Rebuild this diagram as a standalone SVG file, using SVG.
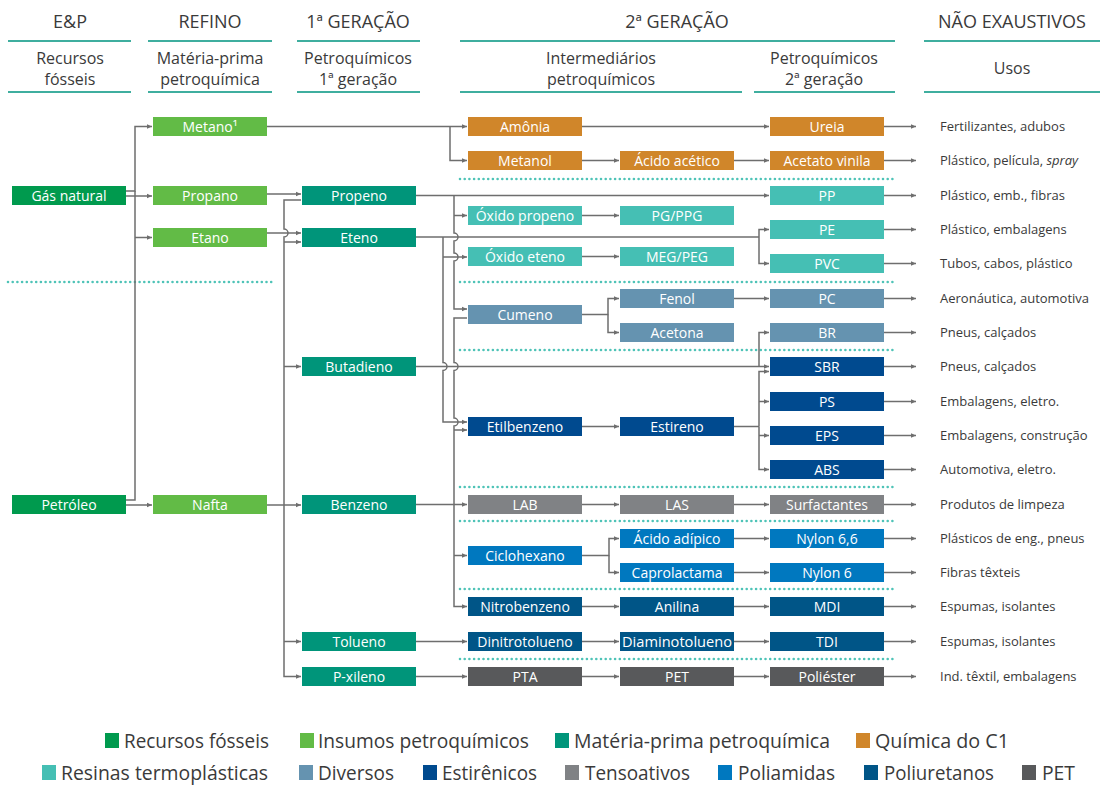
<svg xmlns="http://www.w3.org/2000/svg" width="1100" height="786" viewBox="0 0 1100 786">
<style>
text{font-family:"Open Sans","Noto Sans","Liberation Sans",sans-serif;fill:#3a3a3a}
.h{font-size:18px;text-anchor:middle}
.s{font-size:16px;text-anchor:middle}
.b{font-size:14px;text-anchor:middle;fill:#fff}
.u{font-size:13px}
.lg{font-size:20px}
.hl{stroke:#3fae9f;stroke-width:2;fill:none}
.dot{stroke:#4ec3b7;stroke-width:2.6;stroke-linecap:round;stroke-dasharray:0 4.7;fill:none}
.c path{fill:none;stroke:#6e6e6e;stroke-width:1.5;marker-end:url(#a)}
.c path.n{marker-end:none}
.fos{fill:#009a4e}.ins{fill:#62bb46}.mp{fill:#00957a}.c1{fill:#d0862a}.res{fill:#45bfb4}.div{fill:#6593b0}.est{fill:#004a8f}.ten{fill:#808285}.pam{fill:#0078bf}.pur{fill:#005587}.pet{fill:#58595b}
</style>
<defs>
<marker id="a" markerUnits="userSpaceOnUse" markerWidth="7" markerHeight="7" refX="5.5" refY="3" orient="auto"><path d="M0,0.4 L5.5,3 L0,5.6 Z" fill="#6e6e6e"/></marker>
</defs>

<g id="header">
<text class="h" x="70" y="28">E&amp;P</text>
<text class="h" x="210" y="28">REFINO</text>
<text class="h" x="358" y="28">1ª GERAÇÃO</text>
<text class="h" x="677" y="28">2ª GERAÇÃO</text>
<text class="h" x="1012" y="28">NÃO EXAUSTIVOS</text>
<path class="hl" d="M8,41H131M148,41H272M297,41H420M460,41H895M924,41H1100"/>
<text class="s" x="70" y="64">Recursos</text><text class="s" x="70" y="85">fósseis</text>
<text class="s" x="210" y="64">Matéria-prima</text><text class="s" x="210" y="85">petroquímica</text>
<text class="s" x="358" y="64">Petroquímicos</text><text class="s" x="358" y="85">1ª geração</text>
<text class="s" x="601" y="64">Intermediários</text><text class="s" x="601" y="85">petroquímicos</text>
<text class="s" x="824" y="64">Petroquímicos</text><text class="s" x="824" y="85">2ª geração</text>
<text class="s" x="1012" y="74">Usos</text>
<path class="hl" d="M8,92H131M148,92H272M297,92H420M460,92H742M754,92H895M924,92H1100"/>
</g>

<g id="separators">
<path class="dot" d="M8,282H273"/>
<path class="dot" d="M460,179H895M460,282H895M460,350H895M460,487H895M460,521H895M460,589H895M460,659H895"/>
</g>

<g id="connectors" class="c">
<path d="M126,191H135V126.5H152"/>
<path d="M126,196H152"/>
<path class="n" d="M135,191V500H126"/>
<path d="M135,237.5H152"/>
<path d="M126,505H152"/>
<path d="M267,194H301"/>
<path d="M267,233H301"/>
<path d="M301,200H284V229A4,4 0 0 1 284,237V676.5H301"/>
<path d="M284,242H301"/>
<path d="M284,366.5H301"/>
<path d="M284,641.5H301"/>
<path d="M267,505H301"/>
<path d="M267,126.5H467"/>
<path d="M450,126.5V160.5H467"/>
<path d="M582,126.5H769"/>
<path d="M582,160.5H619"/>
<path d="M734,160.5H769"/>
<path d="M416,195.5H769"/>
<path d="M454,195.5V233A4,4 0 0 1 454,241V253A4,4 0 0 1 454,261V309H467"/>
<path d="M454,215.5H467"/>
<path d="M582,215.5H619"/>
<path class="n" d="M416,237H759"/>
<path d="M759,237V229.5H769"/>
<path d="M759,237V263.5H769"/>
<path d="M443,237V362.5A4,4 0 0 1 443,370.5V422H467"/>
<path d="M443,257H467"/>
<path d="M582,256.5H619"/>
<path d="M582,314.5H608V298.5H619"/>
<path d="M608,314.5V332.5H619"/>
<path d="M734,298.5H769"/>
<path d="M416,366.5H769"/>
<path d="M759,366.5V332.5H769"/>
<path d="M467,318H454V362.5A4,4 0 0 1 454,370.5V418A4,4 0 0 1 454,426V606.5H467"/>
<path d="M454,430H467"/>
<path d="M416,504.5H467"/>
<path d="M454,555.5H467"/>
<path d="M582,426.5H619"/>
<path class="n" d="M734,426.5H759"/>
<path d="M759,426.5V371.5H769"/>
<path d="M759,401.5H769"/>
<path d="M759,426.5V469.5H769"/>
<path d="M759,435.5H769"/>
<path d="M582,504.5H619"/>
<path d="M734,504.5H769"/>
<path d="M582,555.5H609V538.5H619"/>
<path d="M609,555.5V572.5H619"/>
<path d="M734,538.5H769"/>
<path d="M734,572.5H769"/>
<path d="M582,606.5H619"/>
<path d="M734,606.5H769"/>
<path d="M416,641.5H467"/>
<path d="M582,641.5H619"/>
<path d="M734,641.5H769"/>
<path d="M416,676.5H467"/>
<path d="M582,676.5H619"/>
<path d="M734,676.5H769"/>
<path d="M884,126.5H916"/><path d="M884,160.5H916"/><path d="M884,195.5H916"/><path d="M884,229.5H916"/>
<path d="M884,263.5H916"/><path d="M884,298.5H916"/><path d="M884,332.5H916"/><path d="M884,366.5H916"/>
<path d="M884,401.5H916"/><path d="M884,435.5H916"/><path d="M884,469.5H916"/><path d="M884,504.5H916"/>
<path d="M884,538.5H916"/><path d="M884,572.5H916"/><path d="M884,606.5H916"/><path d="M884,641.5H916"/>
<path d="M884,676.5H916"/>
</g>

<g id="gas-natural"><rect class="fos" x="12" y="186" width="114" height="19"/><text class="b" x="69" y="200.5">Gás natural</text></g>
<g id="petroleo"><rect class="fos" x="12" y="495" width="114" height="19"/><text class="b" x="69" y="509.5">Petróleo</text></g>
<g id="metano"><rect class="ins" x="153" y="117" width="114" height="19"/><text class="b" x="210" y="131.5">Metano¹</text></g>
<g id="propano"><rect class="ins" x="153" y="186" width="114" height="19"/><text class="b" x="210" y="200.5">Propano</text></g>
<g id="etano"><rect class="ins" x="153" y="228" width="114" height="19"/><text class="b" x="210" y="242.5">Etano</text></g>
<g id="nafta"><rect class="ins" x="153" y="495" width="114" height="19"/><text class="b" x="210" y="509.5">Nafta</text></g>
<g id="propeno"><rect class="mp" x="302" y="186" width="114" height="19"/><text class="b" x="359" y="200.5">Propeno</text></g>
<g id="eteno"><rect class="mp" x="302" y="228" width="114" height="19"/><text class="b" x="359" y="242.5">Eteno</text></g>
<g id="butadieno"><rect class="mp" x="302" y="357" width="114" height="19"/><text class="b" x="359" y="371.5">Butadieno</text></g>
<g id="benzeno"><rect class="mp" x="302" y="495" width="114" height="19"/><text class="b" x="359" y="509.5">Benzeno</text></g>
<g id="tolueno"><rect class="mp" x="302" y="632" width="114" height="19"/><text class="b" x="359" y="646.5">Tolueno</text></g>
<g id="p-xileno"><rect class="mp" x="302" y="667" width="114" height="19"/><text class="b" x="359" y="681.5">P-xileno</text></g>
<g id="amonia"><rect class="c1" x="468" y="117" width="114" height="19"/><text class="b" x="525" y="131.5">Amônia</text></g>
<g id="metanol"><rect class="c1" x="468" y="151" width="114" height="19"/><text class="b" x="525" y="165.5">Metanol</text></g>
<g id="acido-acetico"><rect class="c1" x="620" y="151" width="114" height="19"/><text class="b" x="677" y="165.5">Ácido acético</text></g>
<g id="ureia"><rect class="c1" x="770" y="117" width="114" height="19"/><text class="b" x="827" y="131.5">Ureia</text></g>
<g id="acetato-vinila"><rect class="c1" x="770" y="151" width="114" height="19"/><text class="b" x="827" y="165.5">Acetato vinila</text></g>
<g id="oxido-propeno"><rect class="res" x="468" y="206" width="114" height="19"/><text class="b" x="525" y="220.5">Óxido propeno</text></g>
<g id="pg-ppg"><rect class="res" x="620" y="206" width="114" height="19"/><text class="b" x="677" y="220.5">PG/PPG</text></g>
<g id="oxido-eteno"><rect class="res" x="468" y="247" width="114" height="19"/><text class="b" x="525" y="261.5">Óxido eteno</text></g>
<g id="meg-peg"><rect class="res" x="620" y="247" width="114" height="19"/><text class="b" x="677" y="261.5">MEG/PEG</text></g>
<g id="pp"><rect class="res" x="770" y="186" width="114" height="19"/><text class="b" x="827" y="200.5">PP</text></g>
<g id="pe"><rect class="res" x="770" y="220" width="114" height="19"/><text class="b" x="827" y="234.5">PE</text></g>
<g id="pvc"><rect class="res" x="770" y="254" width="114" height="19"/><text class="b" x="827" y="268.5">PVC</text></g>
<g id="cumeno"><rect class="div" x="468" y="305" width="114" height="19"/><text class="b" x="525" y="319.5">Cumeno</text></g>
<g id="fenol"><rect class="div" x="620" y="289" width="114" height="19"/><text class="b" x="677" y="303.5">Fenol</text></g>
<g id="acetona"><rect class="div" x="620" y="323" width="114" height="19"/><text class="b" x="677" y="337.5">Acetona</text></g>
<g id="pc"><rect class="div" x="770" y="289" width="114" height="19"/><text class="b" x="827" y="303.5">PC</text></g>
<g id="br"><rect class="div" x="770" y="323" width="114" height="19"/><text class="b" x="827" y="337.5">BR</text></g>
<g id="etilbenzeno"><rect class="est" x="468" y="417" width="114" height="19"/><text class="b" x="525" y="431.5">Etilbenzeno</text></g>
<g id="estireno"><rect class="est" x="620" y="417" width="114" height="19"/><text class="b" x="677" y="431.5">Estireno</text></g>
<g id="sbr"><rect class="est" x="770" y="357" width="114" height="19"/><text class="b" x="827" y="371.5">SBR</text></g>
<g id="ps"><rect class="est" x="770" y="392" width="114" height="19"/><text class="b" x="827" y="406.5">PS</text></g>
<g id="eps"><rect class="est" x="770" y="426" width="114" height="19"/><text class="b" x="827" y="440.5">EPS</text></g>
<g id="abs"><rect class="est" x="770" y="460" width="114" height="19"/><text class="b" x="827" y="474.5">ABS</text></g>
<g id="lab"><rect class="ten" x="468" y="495" width="114" height="19"/><text class="b" x="525" y="509.5">LAB</text></g>
<g id="las"><rect class="ten" x="620" y="495" width="114" height="19"/><text class="b" x="677" y="509.5">LAS</text></g>
<g id="surfactantes"><rect class="ten" x="770" y="495" width="114" height="19"/><text class="b" x="827" y="509.5">Surfactantes</text></g>
<g id="ciclohexano"><rect class="pam" x="468" y="546" width="114" height="19"/><text class="b" x="525" y="560.5">Ciclohexano</text></g>
<g id="acido-adipico"><rect class="pam" x="620" y="529" width="114" height="19"/><text class="b" x="677" y="543.5">Ácido adípico</text></g>
<g id="caprolactama"><rect class="pam" x="620" y="563" width="114" height="19"/><text class="b" x="677" y="577.5">Caprolactama</text></g>
<g id="nylon-66"><rect class="pam" x="770" y="529" width="114" height="19"/><text class="b" x="827" y="543.5">Nylon 6,6</text></g>
<g id="nylon-6"><rect class="pam" x="770" y="563" width="114" height="19"/><text class="b" x="827" y="577.5">Nylon 6</text></g>
<g id="nitrobenzeno"><rect class="pur" x="468" y="597" width="114" height="19"/><text class="b" x="525" y="611.5">Nitrobenzeno</text></g>
<g id="anilina"><rect class="pur" x="620" y="597" width="114" height="19"/><text class="b" x="677" y="611.5">Anilina</text></g>
<g id="mdi"><rect class="pur" x="770" y="597" width="114" height="19"/><text class="b" x="827" y="611.5">MDI</text></g>
<g id="dinitrotolueno"><rect class="pur" x="468" y="632" width="114" height="19"/><text class="b" x="525" y="646.5">Dinitrotolueno</text></g>
<g id="diaminotolueno"><rect class="pur" x="620" y="632" width="114" height="19"/><text class="b" x="677" y="646.5" textLength="110" lengthAdjust="spacingAndGlyphs">Diaminotolueno</text></g>
<g id="tdi"><rect class="pur" x="770" y="632" width="114" height="19"/><text class="b" x="827" y="646.5">TDI</text></g>
<g id="pta"><rect class="pet" x="468" y="667" width="114" height="19"/><text class="b" x="525" y="681.5">PTA</text></g>
<g id="pet"><rect class="pet" x="620" y="667" width="114" height="19"/><text class="b" x="677" y="681.5">PET</text></g>
<g id="poliester"><rect class="pet" x="770" y="667" width="114" height="19"/><text class="b" x="827" y="681.5">Poliéster</text></g>

<g id="usos">
<text class="u" x="940" y="131">Fertilizantes, adubos</text>
<text class="u" x="940" y="165">Plástico, película, <tspan font-style="italic">spray</tspan></text>
<text class="u" x="940" y="200">Plástico, emb., fibras</text>
<text class="u" x="940" y="234">Plástico, embalagens</text>
<text class="u" x="940" y="268">Tubos, cabos, plástico</text>
<text class="u" x="940" y="303">Aeronáutica, automotiva</text>
<text class="u" x="940" y="337">Pneus, calçados</text>
<text class="u" x="940" y="371">Pneus, calçados</text>
<text class="u" x="940" y="406">Embalagens, eletro.</text>
<text class="u" x="940" y="440">Embalagens, construção</text>
<text class="u" x="940" y="474">Automotiva, eletro.</text>
<text class="u" x="940" y="509">Produtos de limpeza</text>
<text class="u" x="940" y="543">Plásticos de eng., pneus</text>
<text class="u" x="940" y="577">Fibras têxteis</text>
<text class="u" x="940" y="611">Espumas, isolantes</text>
<text class="u" x="940" y="646">Espumas, isolantes</text>
<text class="u" x="940" y="681">Ind. têxtil, embalagens</text>
</g>

<g id="legend">
<rect class="fos" x="105" y="733" width="14" height="15"/><text class="lg" x="124" y="748" textLength="145" lengthAdjust="spacingAndGlyphs">Recursos fósseis</text>
<rect class="ins" x="300" y="733" width="14" height="15"/><text class="lg" x="318" y="748" textLength="211" lengthAdjust="spacingAndGlyphs">Insumos petroquímicos</text>
<rect class="mp" x="555" y="733" width="14" height="15"/><text class="lg" x="574" y="748" textLength="256" lengthAdjust="spacingAndGlyphs">Matéria-prima petroquímica</text>
<rect class="c1" x="856" y="733" width="14" height="15"/><text class="lg" x="875" y="748" textLength="134" lengthAdjust="spacingAndGlyphs">Química do C1</text>
<rect class="res" x="42" y="765" width="14" height="15"/><text class="lg" x="61" y="780" textLength="207" lengthAdjust="spacingAndGlyphs">Resinas termoplásticas</text>
<rect class="div" x="299" y="765" width="14" height="15"/><text class="lg" x="318" y="780" textLength="76" lengthAdjust="spacingAndGlyphs">Diversos</text>
<rect class="est" x="423" y="765" width="14" height="15"/><text class="lg" x="442" y="780" textLength="95" lengthAdjust="spacingAndGlyphs">Estirênicos</text>
<rect class="ten" x="565" y="765" width="14" height="15"/><text class="lg" x="585" y="780" textLength="105" lengthAdjust="spacingAndGlyphs">Tensoativos</text>
<rect class="pam" x="718" y="765" width="14" height="15"/><text class="lg" x="738" y="780" textLength="97" lengthAdjust="spacingAndGlyphs">Poliamidas</text>
<rect class="pur" x="864" y="765" width="14" height="15"/><text class="lg" x="884" y="780" textLength="110" lengthAdjust="spacingAndGlyphs">Poliuretanos</text>
<rect class="pet" x="1022" y="765" width="14" height="15"/><text class="lg" x="1042" y="780" textLength="33" lengthAdjust="spacingAndGlyphs">PET</text>
</g>
</svg>
